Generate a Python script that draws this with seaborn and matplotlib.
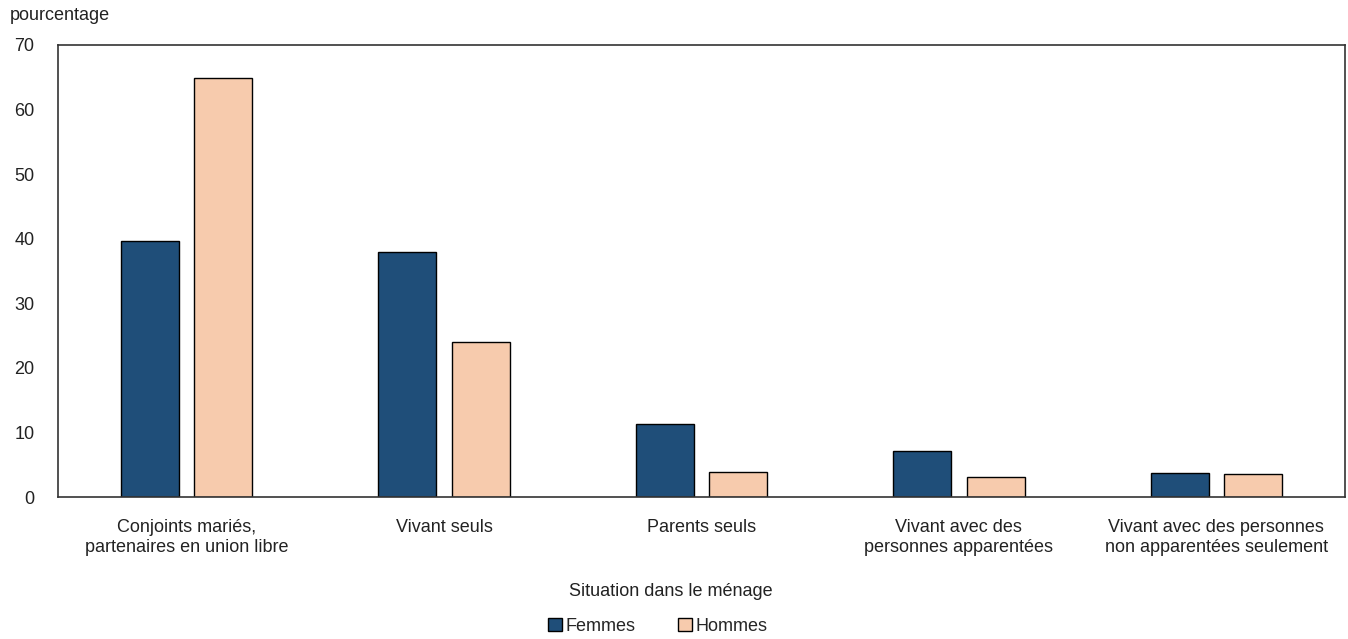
import matplotlib
matplotlib.use("Agg")
import matplotlib.pyplot as plt
import seaborn as sns
import pandas as pd

# Data
categories = [
    "Conjoints mariés,\npartenaires en union libre",
    "Vivant seuls",
    "Parents seuls",
    "Vivant avec des\npersonnes apparentées",
    "Vivant avec des personnes\nnon apparentées seulement",
]
femmes = [39.7, 37.9, 11.3, 7.2, 3.7]
hommes = [64.9, 24.0, 3.8, 3.1, 3.6]
series = ["Femmes", "Hommes"]
colors = ["#1f4e79", "#f7cbad"]

df = pd.DataFrame({
    "categorie": categories * 2,
    "sexe": [series[0]] * len(categories) + [series[1]] * len(categories),
    "valeur": femmes + hommes,
})

sns.set_style("white")
plt.rcParams["font.family"] = ["Liberation Sans Narrow", "Liberation Sans", "DejaVu Sans"]
plt.rcParams["font.size"] = 13

fig = plt.figure(figsize=(13.48, 6.39), dpi=100)
ax = fig.add_axes([0.043, 0.2222, 0.9548, 0.7074])

sns.barplot(data=df, x="categorie", y="valeur", hue="sexe", order=categories,
            hue_order=series, palette=colors, width=0.571, gap=0.21,
            edgecolor="black", linewidth=1, saturation=1, ax=ax, legend=False)

ax.set_ylim(0, 70)
ax.set_yticks(range(0, 71, 10))
ax.set_xlim(-0.5, len(categories) - 0.5)
ax.set_xlabel("")
ax.set_ylabel("")
ax.tick_params(axis="both", length=0, labelsize=13, colors="#222222")
ax.tick_params(axis="x", pad=16)
ax.tick_params(axis="y", pad=17)
for s in ax.spines.values():
    s.set_visible(True)
    s.set_color("#333333")
    s.set_linewidth(1.2)

fig.text(0.007, 0.976, "pourcentage", fontsize=13, ha="left", va="center", color="#222222")
fig.text(0.498, 0.075, "Situation dans le ménage", fontsize=13, ha="center", va="center",
         color="#222222")

handles = [plt.Rectangle((0, 0), 1, 1, facecolor=c, edgecolor="black", linewidth=1)
           for c in colors]
fig.legend(handles, series, loc="center", bbox_to_anchor=(0.488, 0.02), ncol=2,
           frameon=False, handlelength=0.75, handleheight=0.75, handletextpad=0.2,
           columnspacing=2.4, fontsize=13)

fig.savefig("out.png", dpi=100)
